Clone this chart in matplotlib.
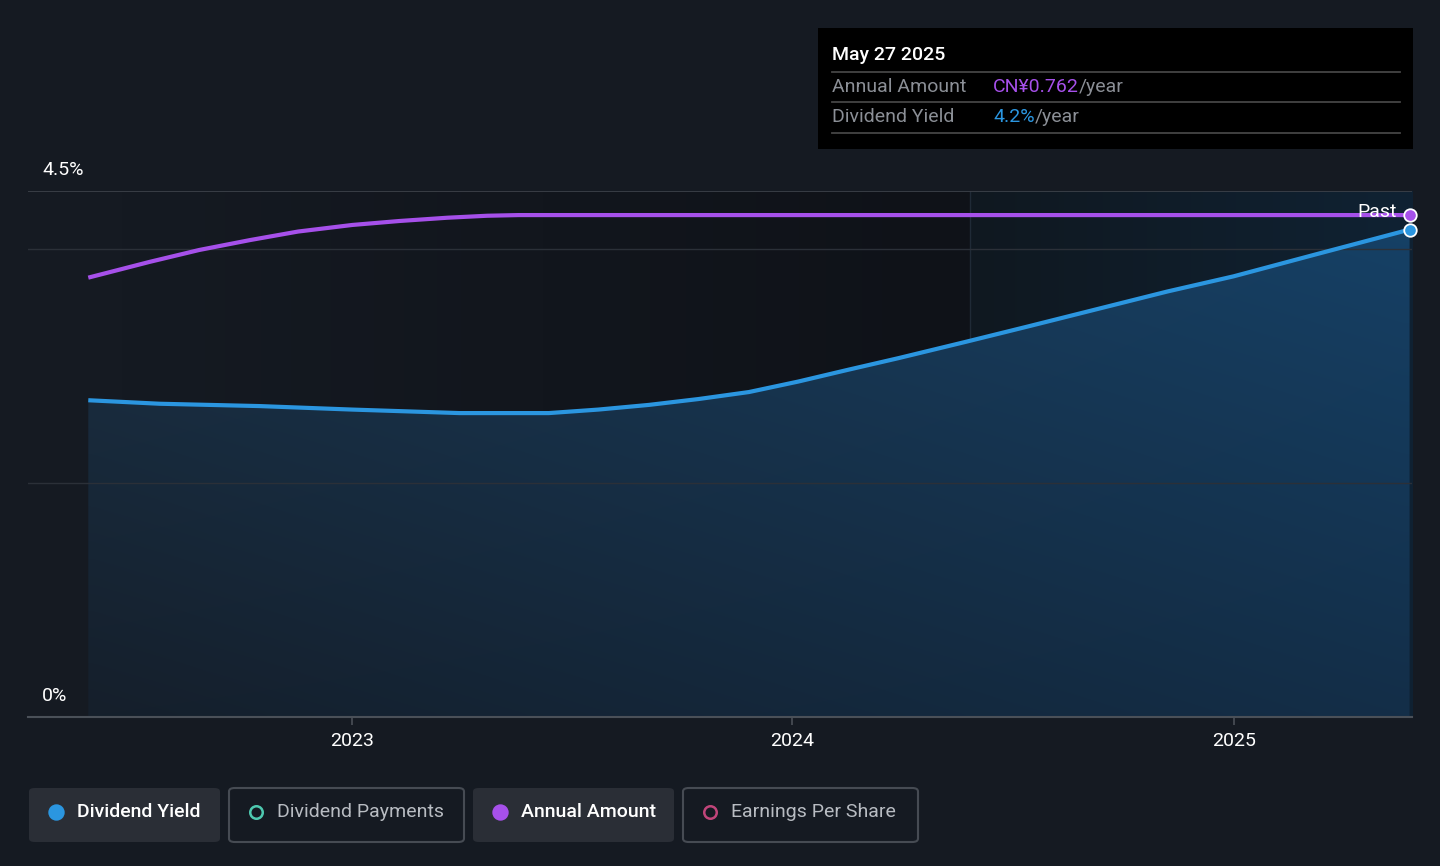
import matplotlib
matplotlib.use("Agg")
import matplotlib.pyplot as plt
import matplotlib.dates as mdates
from matplotlib.patches import FancyBboxPatch, Rectangle, PathPatch
from matplotlib.colors import LinearSegmentedColormap, to_rgb
import numpy as np
import datetime as dt

plt.rcParams['font.family'] = ['Roboto', 'DejaVu Sans']

# ---------------- data ----------------
yield_dates = ["2022-05-27", "2022-07-25", "2022-10-16", "2023-01-01", "2023-03-31",
               "2023-06-13", "2023-07-24", "2023-09-04", "2023-10-15", "2023-11-26",
               "2024-01-06", "2024-02-16", "2024-03-29", "2024-05-24", "2024-07-14",
               "2024-09-10", "2024-11-07", "2025-01-01", "2025-03-11", "2025-05-27"]
yield_values = [2.71, 2.68, 2.66, 2.63, 2.60, 2.60, 2.63, 2.67, 2.72, 2.78,
                2.87, 2.97, 3.07, 3.21, 3.34, 3.49, 3.64, 3.77, 3.96, 4.17]

amount_dates = ["2022-05-27", "2022-07-17", "2022-08-27", "2022-10-08", "2022-11-17",
                "2023-01-01", "2023-02-09", "2023-03-21", "2023-04-23", "2023-05-19",
                "2024-01-01", "2025-01-01", "2025-05-27"]
amount_values = [0.667, 0.691, 0.709, 0.724, 0.737, 0.747, 0.753, 0.758, 0.761, 0.762,
                 0.762, 0.762, 0.762]

y_ticks = [0, 4.5]
y_tick_labels = ["0%", "4.5%"]
grid_levels = [2.0, 4.0, 4.5]
x_ticks = ["2023-01-01", "2024-01-01", "2025-01-01"]
x_tick_labels = ["2023", "2024", "2025"]
past_start = "2024-05-27"

tooltip_date = "May 27 2025"
tooltip_amount = "CN¥0.762"
tooltip_yield = "4.2%"
legend_items = ["Dividend Yield", "Dividend Payments", "Annual Amount", "Earnings Per Share"]

# ---------------- style ----------------
BG = "#151a22"
BLUE = "#2b96e0"
PURPLE = "#a650ea"
GRID = "#2b3038"
TXT_GRAY = "#8b8f96"

to_d = lambda s: mdates.date2num(dt.datetime.strptime(s, "%Y-%m-%d"))
yx = np.array([to_d(s) for s in yield_dates])
yv = np.array(yield_values)
axd = np.array([to_d(s) for s in amount_dates])
av = np.array(amount_values)

W, H = 1440, 866
fig = plt.figure(figsize=(W / 100, H / 100), dpi=100, facecolor=BG)
L, R, T, B = 28, 1412, 191, 717
ax = fig.add_axes([L / W, 1 - B / H, (R - L) / W, (B - T) / H])
ax.set_facecolor(BG)

x0 = to_d("2022-04-07")
x1 = to_d("2025-05-29")
ax.set_xlim(x0, x1)
ax.set_ylim(0, 4.5)
xp = to_d(past_start)

# background gradients
grad = np.linspace(0, 1, 256)[None, :]
cm_bg = LinearSegmentedColormap.from_list("bg", [BG, "#0f1218"])
ax.imshow(grad, extent=[to_d("2022-06-20"), xp, 0, 4.5], aspect="auto",
          cmap=cm_bg, zorder=0, interpolation="bicubic")
cm_past = LinearSegmentedColormap.from_list("past", ["#0f1820", "#102233"])
ax.imshow(grad, extent=[xp, x1, 0, 4.5], aspect="auto", cmap=cm_past,
          zorder=0, interpolation="bicubic")
ax.axvline(xp, color="#1f2a36", lw=1, zorder=1)

# bilinear-gradient fill under yield line
tl, bl, tr, br = [np.array(to_rgb(c)) for c in ("#1b3349", "#151f2b", "#164268", "#132e48")]
n = 128
u = np.linspace(0, 1, n)[None, :, None]   # x
v = np.linspace(0, 1, n)[:, None, None]   # y (0 bottom)
rgb = (1 - u) * (1 - v) * bl + u * (1 - v) * br + (1 - u) * v * tl + u * v * tr
im = ax.imshow(rgb, extent=[yx[0], yx[-1], 0, 4.5], origin="lower", aspect="auto",
               zorder=2, interpolation="bicubic")
poly = ax.fill_between(yx, 0, yv, color="none", lw=0)
pp = PathPatch(poly.get_paths()[0], transform=ax.transData, facecolor="none", edgecolor="none")
ax.add_patch(pp)
im.set_clip_path(pp)

# grid lines
for g in grid_levels:
    ax.axhline(g, color="#3b4048" if g == 4.5 else GRID, lw=1.3 if g == 4.5 else 1.0, zorder=3)

# lines
ax.plot(yx, yv, color=BLUE, lw=3.0, zorder=5, solid_capstyle="butt")
ax2 = ax.twinx()
ax2.set_ylim(0, 0.762 * 4.5 / 4.294)
ax2.plot(axd, av, color=PURPLE, lw=3.0, zorder=5, solid_capstyle="butt")
ax2.plot([axd[-1]], [av[-1]], "o", ms=9, mfc=PURPLE, mec="white", mew=1.3, zorder=7, clip_on=False)
ax.plot([yx[-1]], [yv[-1]], "o", ms=9, mfc=BLUE, mec="white", mew=1.3, zorder=7, clip_on=False)
ax2.axis("off")
ax.set_zorder(1)
ax2.set_zorder(2)

fig.text(1397 / W, 1 - 212 / H, "Past", color="white", fontsize=14,
         ha="right", va="center", zorder=10)

# axes styling
for s in ["top", "right", "left"]:
    ax.spines[s].set_visible(False)
ax.spines["bottom"].set_color("#4a5058")
ax.spines["bottom"].set_linewidth(1.5)
ax.set_yticks([])
ax.set_xticks([to_d(s) for s in x_ticks])
ax.set_xticklabels(x_tick_labels, color="white", fontsize=14)
ax.tick_params(axis="x", length=6, width=1.2, color="#4a5058", pad=5)

# y labels inside plot
for v_, lab in zip(y_ticks, y_tick_labels):
    fig.text(42 / W, 1 - (B - (v_ / 4.5) * (B - T) - 21) / H, lab, color="white",
             fontsize=14, ha="left", va="center")

# tooltip
fig.patches.append(Rectangle((818 / W, 1 - 149 / H), (1413 - 818) / W, (149 - 28) / H,
                             transform=fig.transFigure, facecolor="black", edgecolor="none"))
for yy in [72, 102, 133]:
    fig.add_artist(plt.Line2D([832 / W, 1400 / W], [1 - yy / H, 1 - yy / H],
                              color="#454545", lw=1.3, transform=fig.transFigure))
fig.text(832 / W, 1 - 55 / H, tooltip_date, color="white", fontsize=14,
         fontweight="medium", va="center")
fig.text(832 / W, 1 - 87 / H, "Annual Amount", color=TXT_GRAY, fontsize=14, va="center")
fig.text(832 / W, 1 - 117 / H, "Dividend Yield", color=TXT_GRAY, fontsize=14, va="center")
t1 = fig.text(993 / W, 1 - 87 / H, tooltip_amount, color=PURPLE, fontsize=14, va="center")
t2 = fig.text(993 / W, 1 - 117 / H, tooltip_yield, color=BLUE, fontsize=14, va="center")
fig.canvas.draw()
r = fig.canvas.get_renderer()
for t in (t1, t2):
    bb = t.get_window_extent(r)
    fig.text(bb.x1 / W, t.get_position()[1], "/year", color=TXT_GRAY, fontsize=14, va="center")

# legend
boxes = [(29, 220, True, BLUE, True), (229, 464, False, "#4ec9b0", False),
         (473, 674, True, PURPLE, True), (683, 918, False, "#c0457a", False)]
for (bx0, bx1, filled, col, solid), lab in zip(boxes, legend_items):
    by0, by1 = 788, 842
    fig.patches.append(FancyBboxPatch((bx0 / W, 1 - by1 / H), (bx1 - bx0) / W, (by1 - by0) / H,
                                      boxstyle="round,pad=0,rounding_size=0.004",
                                      transform=fig.transFigure,
                                      facecolor="#2a2e36" if filled else BG,
                                      edgecolor="none" if filled else "#464b53", lw=1.5))
    cy = 1 - 812 / H
    fig.add_artist(plt.Line2D([(bx0 + 27) / W], [cy], marker="o", ms=10 if solid else 9,
                              mfc=col if solid else "none", mec=col, mew=1.8,
                              transform=fig.transFigure))
    fig.text((bx0 + 48) / W, cy, lab, color="white" if filled else "#b8bcc2",
             fontsize=14, va="center", fontweight="medium" if filled else "normal")

fig.savefig("out.png", dpi=100, facecolor=BG)
